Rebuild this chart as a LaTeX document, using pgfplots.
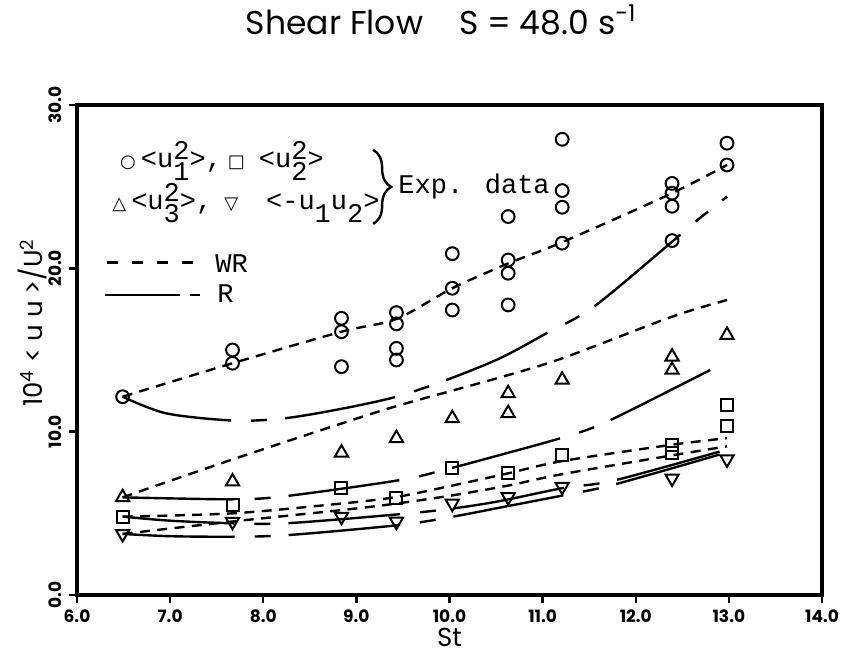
\documentclass[border=0pt]{standalone}
\usepackage{fontspec}
\usepackage{pgfplots}
\usepackage{pgfplotstable}
\pgfplotsset{compat=1.18}
\usetikzlibrary{decorations.pathreplacing}

\newfontfamily\geofont{Poppins}
\newfontfamily\monofont{Liberation Mono}
\newfontfamily\symfont{DejaVu Sans}

% experimental data, one table per quantity
\pgfplotstableread{
st v
6.49 12.14
7.67 15.00
7.67 14.19
8.84 16.94
8.84 16.12
8.84 13.98
9.43 17.29
9.43 16.60
9.43 15.10
9.43 14.39
10.03 20.90
10.03 18.78
10.03 17.45
10.63 23.17
10.63 20.51
10.63 19.70
10.63 17.76
11.21 27.90
11.21 24.76
11.21 23.74
11.21 21.54
12.39 25.20
12.39 24.60
12.39 23.80
12.39 21.70
12.98 27.66
12.98 26.33
}\uone
\pgfplotstableread{
st v
6.49 4.80
7.67 5.51
8.84 6.53
9.43 5.92
10.03 7.76
10.63 7.45
11.21 8.57
12.39 9.19
12.39 8.68
12.98 11.63
12.98 10.35
}\utwo
\pgfplotstableread{
st v
6.49 5.98
7.67 6.94
8.84 8.71
9.43 9.60
10.03 10.82
10.63 12.35
10.63 11.13
11.21 13.17
12.39 14.59
12.39 13.78
12.98 15.92
}\uthree
\pgfplotstableread{
st v
6.49 3.74
7.67 4.49
8.84 4.80
9.43 4.50
10.03 5.60
10.63 6.00
11.21 6.63
12.39 7.14
12.98 8.31
}\uv

\tikzset{
  wr/.style={line width=1.2pt, dash pattern=on 5pt off 3.7pt},
  rr/.style={line width=1.2pt, dash pattern=on 56pt off 10pt on 8pt off 9pt},
  key/.style={anchor=base west, inner sep=0, font=\monofont\fontsize{13.5}{16}\selectfont},
}
\newcommand\su[2]{\rlap{\raisebox{0.3em}{#1}}\raisebox{-0.45em}{#2}}
\newcommand\lsub[1]{\raisebox{-0.45em}{#1}}
\newcommand\sym[1]{{\symfont\fontsize{9}{9}\selectfont #1}}

\begin{document}
\begin{tikzpicture}
\useasboundingbox (-38.5pt,-30pt) rectangle (386.5pt,297.5pt);
\begin{axis}[
    at={(0,0)}, anchor=south west,
    width=372.5pt, height=245pt, scale only axis,
    xmin=6, xmax=14, ymin=0, ymax=30,
    xtick={6,7,...,14}, ytick={0,10,20,30},
    tick align=outside, xtick pos=bottom, ytick pos=left,
    major tick length=4pt,
    axis line style={line width=1.6pt},
    major tick style={line width=1.2pt, black},
    clip=false,
    tick label style={font=\geofont\bfseries\fontsize{8.5}{10}\selectfont},
    yticklabel style={rotate=90, anchor=south},
    /pgf/number format/fixed,
    /pgf/number format/fixed zerofill,
    /pgf/number format/precision=1,
    /pgf/number format/assume math mode=true,
]

% WR model (short dashes)
\addplot[wr, smooth] coordinates {
(6.49,12.14) (7.67,14.19) (8.84,16.12) (9.43,16.9) (10.03,18.78) (10.63,20.3) (11.21,21.6) (12.39,24.6) (12.98,26.33)};
\addplot[wr, smooth] coordinates {
(6.49,5.98) (7.67,8.3) (8.84,10.5) (9.47,11.63) (10.51,13.27) (11.21,14.49) (12.39,17.04) (12.98,18.06)};
\addplot[wr, smooth] coordinates {
(6.49,4.80) (7.67,5.0) (8.84,5.6) (9.43,6.0) (10.03,6.7) (10.63,7.45) (11.21,8.2) (12.39,9.2) (12.98,9.6)};
\addplot[wr, smooth] coordinates {
(6.49,3.74) (7.67,4.5) (8.84,5.2) (9.43,5.6) (10.03,6.1) (10.63,6.7) (11.21,7.4) (12.39,8.55) (12.98,9.1)};

% R model (long dashes)
\addplot[rr, smooth] coordinates {
(6.49,12.14) (6.96,11.12) (7.68,10.68) (8.23,10.82) (8.84,11.4) (9.43,12.14) (9.97,13.17) (10.54,14.49) (11.04,16.02) (11.55,17.65) (12.39,21.63) (12.65,22.9) (12.98,24.39)};
\addplot[rr, smooth] coordinates {
(6.49,5.98) (7.68,5.86) (8.25,6.06) (9.47,7.04) (10.01,7.76) (10.54,8.57) (11.19,9.6) (11.69,10.61) (12.8,13.78)};
\addplot[rr, smooth] coordinates {
(6.49,4.80) (7.0,4.55) (7.68,4.39) (8.27,4.4) (9.47,4.95) (10.04,5.3) (10.54,5.75) (11.22,6.55) (11.76,7.0) (12.9,8.78)};
\addplot[rr, smooth] coordinates {
(6.49,3.74) (7.0,3.6) (7.68,3.57) (8.27,3.67) (9.47,4.29) (10.04,4.8) (10.54,5.35) (11.22,6.1) (11.76,6.75) (12.9,8.6)};

% experimental data
\addplot[only marks, mark=o, mark size=3.2pt, mark options={line width=1pt}] table {\uone};
\addplot[only marks, mark=square, mark size=3pt, mark options={line width=1pt}] table {\utwo};
\addplot[only marks, mark=triangle, mark size=3.8pt, mark options={line width=1pt}] table {\uthree};
\addplot[only marks, mark=triangle, mark size=3.8pt, mark options={line width=1pt, rotate=180}] table {\uv};

% key
\node[key] at (axis cs:6.46,26.15)
  {\sym{○}\hspace{2.5pt}<u\su{2}{1}>,\hspace{3pt}\sym{□}\hspace{7pt}<u\su{2}{2}>};
\node[key] at (axis cs:6.376,23.58)
  {\sym{△}\hspace{2.5pt}<u\su{2}{3}>,\hspace{6pt}\sym{▽}\hspace{14pt}<-u\lsub{1}u\lsub{2}>};
\draw[line width=1.2pt, decorate, decoration={brace, amplitude=9pt}]
  (axis cs:9.18,27.25) -- (axis cs:9.18,22.72);
\node[key] at (axis cs:9.448,24.56) {Exp. data};
\draw[line width=1.2pt, dash pattern=on 5.5pt off 7pt] (axis cs:6.32,20.35) -- (axis cs:7.30,20.35);
\node[key] at (axis cs:7.482,19.72) {WR};
\draw[line width=1.2pt] (axis cs:6.30,18.37) -- (axis cs:7.11,18.37);
\draw[line width=1.2pt] (axis cs:7.21,18.37) -- (axis cs:7.32,18.37);
\node[key] at (axis cs:7.504,17.88) {R};

% titles
\node[font=\geofont\fontsize{16.5}{20}\selectfont] at (axis cs:9.91,35.21)
  {Shear Flow\hspace{18pt}S = 48.0 s\textsuperscript{-1}};
\node[inner sep=0, font=\geofont\fontsize{13}{15}\selectfont] at (axis cs:10.0,-2.6) {St};
\node[rotate=90, font=\geofont\fontsize{13}{15}\selectfont] at (axis cs:5.517,16.66)
  {10\textsuperscript{4} < u u >/U\textsuperscript{2}};
\end{axis}
\end{tikzpicture}
\end{document}
